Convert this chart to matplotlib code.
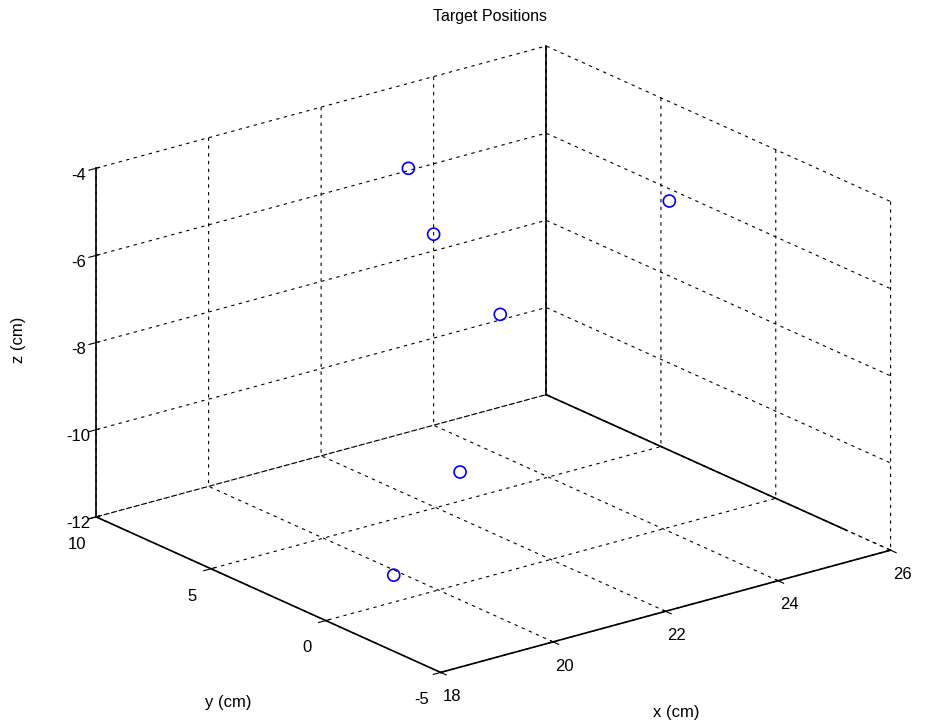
import matplotlib
matplotlib.use("Agg")
import matplotlib.pyplot as plt

# target positions (cm)
x_pos = [22.0, 22.0, 22.0, 25.7, 21.0, 18.8]
y_pos = [6.2, 5.1, 2.2, 3.9, 1.5, -1.0]
z_pos = [-4.5, -5.75, -6.9, -6.0, -10.0, -11.0]

x_ticks = [18, 20, 22, 24, 26]
y_ticks = [-5, 0, 5, 10]
z_ticks = [-12, -10, -8, -6, -4]

plt.rcParams['font.family'] = ['Liberation Sans', 'DejaVu Sans']
plt.rcParams['axes.unicode_minus'] = False
plt.rcParams['grid.color'] = 'black'
plt.rcParams['grid.linestyle'] = (0, (3, 4))
plt.rcParams['grid.linewidth'] = 0.8

fig = plt.figure(figsize=(9.29, 7.26), dpi=100)
ax = fig.add_axes([0.0205, -0.0083, 1.0, 1.0], projection='3d',
                  proj_type='ortho')
ax.view_init(elev=20.5, azim=-127.8)
ax.set_box_aspect((1.53, 1.51, 1.0), zoom=1.18)

ax.scatter(x_pos, y_pos, z_pos, marker='o', s=75, facecolors='none',
           edgecolors='blue', linewidths=1.2, depthshade=False)

ax.set_xlim(x_ticks[0], x_ticks[-1])
ax.set_ylim(y_ticks[0], y_ticks[-1])
ax.set_zlim(z_ticks[0], z_ticks[-1])
ax.set_xticks(x_ticks)
ax.set_yticks(y_ticks)
ax.set_zticks(z_ticks)
ax.tick_params(labelsize=12)
ax.tick_params(axis='z', pad=-2)
ax.tick_params(axis='x', pad=1)

for axis in (ax.xaxis, ax.yaxis, ax.zaxis):
    axis.set_pane_color((1, 1, 1, 0))
    axis.pane.set_edgecolor('none')
    axis.line.set_color('black')
    axis.line.set_linewidth(1.2)

# solid back edges
ax.plot([x_ticks[-1]] * 2, [y_ticks[-1]] * 2, [z_ticks[0], z_ticks[-1]],
        color='black', lw=1.2)
ax.plot([x_ticks[-1]] * 2, [y_ticks[0], y_ticks[-1]], [z_ticks[0]] * 2,
        color='black', lw=1.2)

fig.text(0.527, 0.977, 'Target Positions', ha='center', va='center',
         fontsize=11.5)
fig.text(0.728, 0.019, 'x (cm)', ha='center', va='center', fontsize=12)
fig.text(0.246, 0.032, 'y (cm)', ha='center', va='center', fontsize=12)
fig.text(0.020, 0.532, 'z (cm)', ha='center', va='center', fontsize=12,
         rotation=90)

fig.savefig('out.png', dpi=100)
